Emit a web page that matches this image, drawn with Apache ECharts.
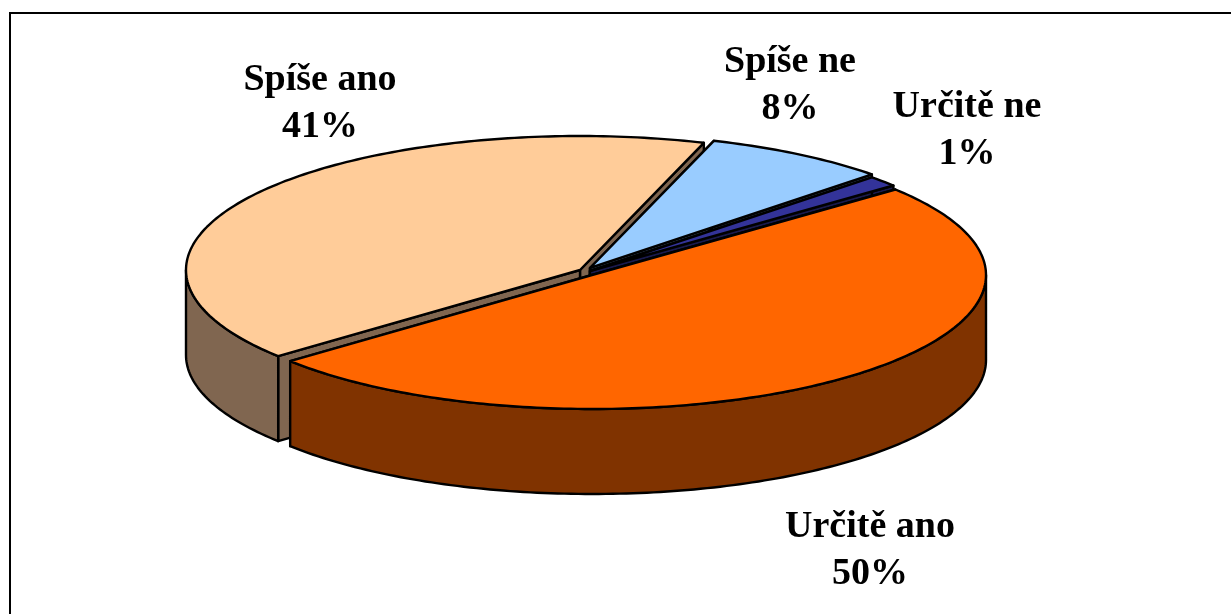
<!DOCTYPE html>
<html>
<head>
<meta charset="utf-8">
<style>
  html, body { margin: 0; padding: 0; background: #fff; }
  #chart { width: 1231px; height: 614px; }
</style>
<script src="https://cdn.jsdelivr.net/npm/echarts@6/dist/echarts.min.js"></script>
</head>
<body>
<div id="chart"></div>
<script>
// slices in painting order, back to front, clockwise on screen
var categories = ['Spíše ano', 'Spíše ne', 'Určitě ne', 'Určitě ano'];
var shares = [41.2, 7.6, 1.3, 49.9];

// layout and colours per slice
var topColors = ['#FFCC99', '#99CCFF', '#333399', '#FF6600'];
var wallColors = ['#806650', '#4D6680', '#1A1A4D', '#803300'];
var sliceCenters = [[580, 270], [590, 268], [590, 271], [592, 275]];
var labelCenters = [[320, 104], [790, 86], [967, 131], [870, 551]];

var radiusX = 394;
var radiusY = 134;
var depth = 85;
var startAngle = 140; // degrees, where the first slice begins

var total = shares.reduce(function (a, b) { return a + b; }, 0);

function point(c, deg, drop) {
  var r = deg * Math.PI / 180;
  return [c[0] + radiusX * Math.cos(r), c[1] + radiusY * Math.sin(r) + (drop || 0)];
}

function arc(c, from, to, drop) {
  var pts = [];
  var n = Math.max(2, Math.ceil(to - from));
  for (var i = 0; i <= n; i++) {
    pts.push(point(c, from + (to - from) * i / n, drop));
  }
  return pts;
}

function face(points, fill, z2) {
  return {
    type: 'polygon',
    z2: z2,
    shape: { points: points },
    style: { fill: fill, stroke: '#000', lineWidth: 2.4, lineJoin: 'round' }
  };
}

// only the part of the rim between 0 and 180 degrees faces the viewer
function frontWalls(c, from, to, fill, z2) {
  var walls = [];
  [0, 360].forEach(function (turn) {
    var lo = Math.max(from, turn);
    var hi = Math.min(to, turn + 180);
    if (hi > lo) {
      walls.push(face(arc(c, lo, hi, 0).concat(arc(c, lo, hi, depth).reverse()), fill, z2));
    }
  });
  return walls;
}

function renderSlice(params, api) {
  var i = params.dataIndex;
  var before = 0;
  for (var k = 0; k < i; k++) before += shares[k];
  var from = startAngle + before / total * 360;
  var to = from + api.value(1) / total * 360;
  var c = sliceCenters[i];
  var low = [c[0], c[1] + depth];
  var base = i * 10;

  return {
    type: 'group',
    children: [
      // the two cut faces, then the outer wall, then the top
      face([c, point(c, to), point(c, to, depth), low], wallColors[i], base + 1),
      face([c, point(c, from), point(c, from, depth), low], wallColors[i], base + 2)
    ].concat(frontWalls(c, from, to, wallColors[i], base + 3), [
      face([c].concat(arc(c, from, to, 0)), topColors[i], base + 4),
      {
        type: 'text',
        z2: 100,
        x: labelCenters[i][0],
        y: labelCenters[i][1],
        style: {
          text: categories[i] + '\n' + Math.round(api.value(1) / total * 100) + '%',
          fontFamily: '"Liberation Serif", serif',
          fontWeight: 'bold',
          fontSize: 38,
          lineHeight: 47,
          fill: '#000',
          align: 'center',
          verticalAlign: 'middle'
        }
      }
    ])
  };
}

var chart = echarts.init(document.getElementById('chart'));
var option = {
  animation: false,
  backgroundColor: '#fff',
  graphic: [
    {
      type: 'polyline',
      shape: { points: [[10, 614], [10, 13], [1231, 13]] },
      style: { fill: null, stroke: '#000', lineWidth: 2 }
    }
  ],
  series: [
    {
      type: 'custom',
      coordinateSystem: 'none',
      renderItem: renderSlice,
      data: categories.map(function (name, i) { return [name, shares[i]]; })
    }
  ]
};

option && chart.setOption(option);
</script>
</body>
</html>
